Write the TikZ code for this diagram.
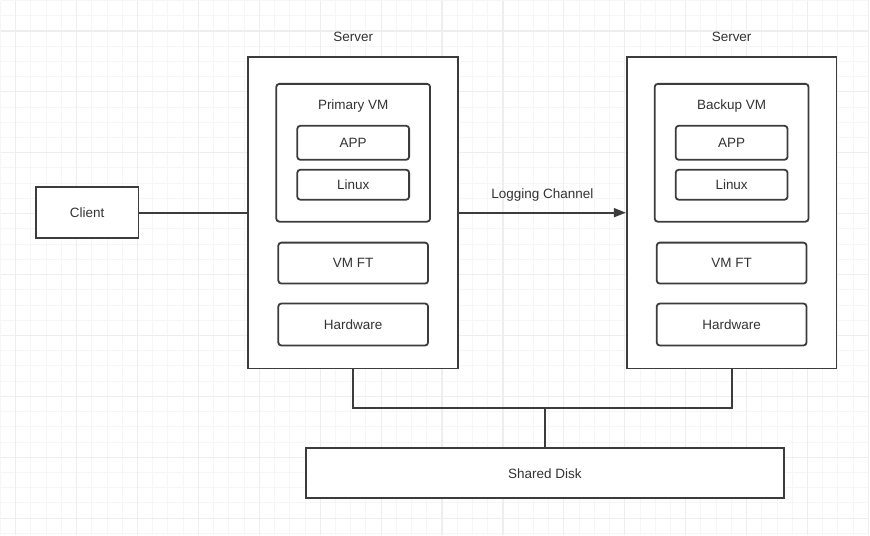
\documentclass[tikz,border=0pt]{standalone}
\usepackage{fontspec}
\setmainfont{Liberation Sans}
\usetikzlibrary{arrows.meta}

\definecolor{edge}{HTML}{3C3C3C}
\definecolor{txt}{HTML}{333333}
\definecolor{gridmin}{HTML}{F6F6F6}
\definecolor{gridmaj}{HTML}{EEEEEE}

\tikzset{
  box/.style={draw=edge, line width=1.8pt, fill=white, text=txt, font=\fontsize{13.5}{15}\selectfont},
  part/.style={box, rounded corners=3pt},
  title/.style={text=txt, font=\fontsize{13.5}{15}\selectfont},
  link/.style={draw=edge, line width=1.8pt}
}

\begin{document}
\begin{tikzpicture}[x=1pt, y=-1pt]
        \def \d {379}

        % background grid
        \fill[white] (0,0) rectangle (870,535);
        \foreach \i in {0,...,57} {
            \pgfmathsetmacro{\gx}{-0.25+15.25*\i}
            \draw[gridmin, line width=1pt] (\gx,0) -- (\gx,535);
        }
        \foreach \i in {0,...,35} {
            \pgfmathsetmacro{\gy}{-0.5+15.25*\i}
            \draw[gridmin, line width=1pt] (0,\gy) -- (870,\gy);
        }
        \foreach \i in {0,...,14} {
            \pgfmathsetmacro{\gx}{15+61*\i}
            \draw[gridmaj, line width=1.2pt] (\gx,0) -- (\gx,535);
        }
        \foreach \i in {0,...,8} {
            \pgfmathsetmacro{\gy}{30+61*\i}
            \draw[gridmaj, line width=1.2pt] (0,\gy) -- (870,\gy);
        }
        \useasboundingbox (0,0) rectangle (870,535);

        % client
        \node[box, minimum width=103pt, minimum height=51pt] (client) at (86.5,212) {Client};

        % primary server
        \node[box, minimum width=210pt, minimum height=312pt] (psrv) at (353,212) {};
        \node[title] (pname) at (353,36) {Server};
        \node[part, minimum width=154pt, minimum height=138pt] (pvm) at (353,152) {};
        \node[title] (pvmname) at (353,105) {Primary VM};
        \node[part, minimum width=112pt, minimum height=34pt] (papp) at (353,142) {APP};
        \node[part, minimum width=112pt, minimum height=30pt] (plin) at (353,184) {Linux};
        \node[part, minimum width=150pt, minimum height=41pt] (pft) at (353,262.5) {VM FT};
        \node[part, minimum width=150pt, minimum height=42pt] (phw) at (353,324) {Hardware};

        % backup server
        \node[box, minimum width=210pt, minimum height=312pt] (bsrv) at (353+\d,212) {};
        \node[title] (bname) at (353+\d,36) {Server};
        \node[part, minimum width=154pt, minimum height=138pt] (bvm) at (353+\d,152) {};
        \node[title] (bvmname) at (353+\d,105) {Backup VM};
        \node[part, minimum width=112pt, minimum height=34pt] (bapp) at (353+\d,142) {APP};
        \node[part, minimum width=112pt, minimum height=30pt] (blin) at (353+\d,184) {Linux};
        \node[part, minimum width=150pt, minimum height=41pt] (bft) at (353+\d,262.5) {VM FT};
        \node[part, minimum width=150pt, minimum height=42pt] (bhw) at (353+\d,324) {Hardware};

        % shared disk
        \node[box, minimum width=479pt, minimum height=50pt] (disk) at (545,473) {Shared Disk};
        \coordinate (join) at (545,408);

        % connectors
        \draw[link] (client.east) -- (psrv.west);
        \draw[link, -{Triangle[length=12pt, width=9pt]}] (psrv.east) -- node[title, above=7pt] {Logging Channel} (bsrv.west);
        \draw[link] (psrv.south) |- (join) -| (bsrv.south);
        \draw[link] (join) -- (disk.north);
\end{tikzpicture}
\end{document}
